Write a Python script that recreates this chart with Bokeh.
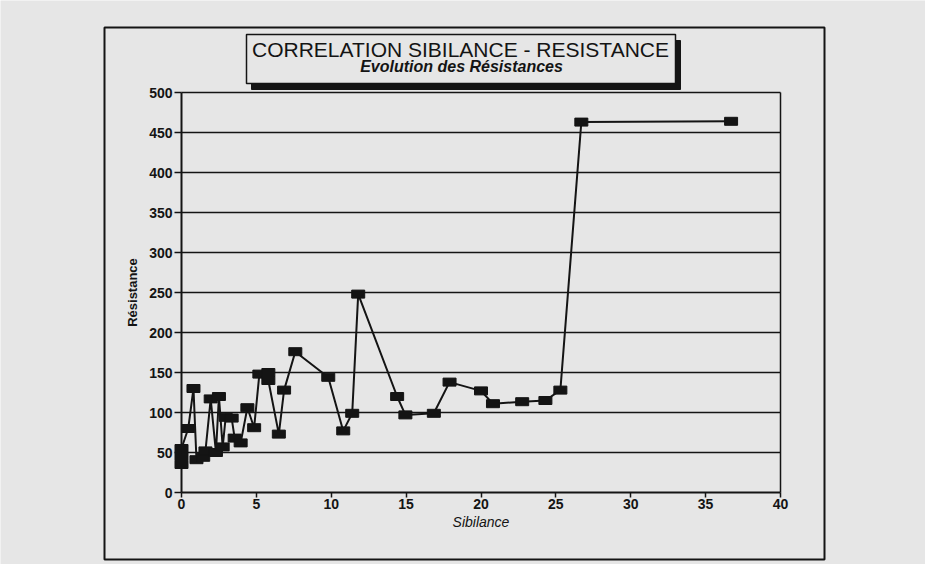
from bokeh.plotting import figure
from bokeh.models import Range1d, FixedTicker, LinearAxis
from bokeh.core.properties import value
from bokeh.embed import file_html
from bokeh.resources import INLINE

# ---- data ----
sibilance = [0.0, 0.0, 0.0, 0.45, 0.8, 1.0, 1.45, 1.6, 1.95, 2.3, 2.5, 2.75, 2.95,
             3.35, 3.55, 3.95, 4.4, 4.85, 5.2, 5.8, 5.8, 6.5, 6.85, 7.6, 9.8,
             10.8, 11.4, 11.8, 14.4, 14.95, 16.85, 17.9, 20.0, 20.8, 22.75,
             24.3, 25.3, 26.7, 36.7]
resistance = [35, 45, 55, 80, 130, 41, 44, 52, 117, 50, 120, 57, 94,
              93, 68, 62, 106, 81, 148, 150, 140, 73, 128, 176, 144,
              77, 99, 248, 120, 97, 99, 138, 127, 111, 113.5,
              115, 128, 463, 464]
x_ticks = [0, 5, 10, 15, 20, 25, 30, 35, 40]
y_ticks = [0, 50, 100, 150, 200, 250, 300, 350, 400, 450, 500]
title_text = "CORRELATION SIBILANCE - RESISTANCE"
subtitle_text = "Evolution des Résistances"
x_label = "Sibilance"
y_label = "Résistance"

BG = "#e6e6e6"
INK = "#141414"
FONT = "Liberation Sans"

# ---- layout (page pixels) ----
W, H = 925, 564
PLOT_L, PLOT_R, PLOT_T, PLOT_B = 181, 780, 92, 492
X0, X1 = x_ticks[0], x_ticks[-1]
Y0, Y1 = y_ticks[0], y_ticks[-1]
SX = (PLOT_R - PLOT_L) / (X1 - X0)
SY = (PLOT_B - PLOT_T) / (Y1 - Y0)


def dx(px):
    return X0 + (px - PLOT_L) / SX


def dy(py):
    return Y0 + (PLOT_B - py) / SY


p = figure(frame_width=W, frame_height=H, min_border=0,
           x_range=Range1d(dx(0), dx(W)), y_range=Range1d(dy(H), dy(0)),
           x_axis_location=None, y_axis_location=None,
           output_backend="svg", toolbar_location=None)
p.background_fill_color = BG
p.border_fill_color = BG
p.outline_line_color = None
p.grid.visible = False

# ---- axes fixed at the data origin ----
xaxis = LinearAxis(fixed_location=Y0, bounds=(X0, X1), ticker=FixedTicker(ticks=x_ticks))
yaxis = LinearAxis(fixed_location=X0, bounds=(Y0, Y1), ticker=FixedTicker(ticks=y_ticks))
for ax in (xaxis, yaxis):
    ax.axis_line_color = INK
    ax.axis_line_width = 2
    ax.major_tick_line_color = INK
    ax.major_tick_line_width = 1.5
    ax.major_tick_in = 0
    ax.minor_tick_line_color = None
    ax.major_label_text_font = FONT
    ax.major_label_text_font_style = "bold"
    ax.major_label_text_font_size = "14px"
    ax.major_label_text_color = INK
    ax.axis_label_text_font = FONT
    ax.axis_label_text_color = INK

xaxis.major_tick_out = 5
xaxis.major_label_standoff = 1
xaxis.axis_label = x_label
xaxis.axis_label_text_font_style = "italic"
xaxis.axis_label_text_font_size = "14px"
xaxis.axis_label_standoff = 2

yaxis.major_tick_out = 7
yaxis.major_label_standoff = 2
yaxis.axis_label = y_label
yaxis.axis_label_text_font_style = "bold"
yaxis.axis_label_text_font_size = "13px"
yaxis.axis_label_standoff = 6

p.add_layout(xaxis, "below")
p.add_layout(yaxis, "left")

# ---- outer frame and title box ----
p.quad(left=[dx(104)], right=[dx(824)], top=[dy(27)], bottom=[dy(559)],
       fill_alpha=0, line_color=INK, line_width=2)
p.quad(left=[dx(251)], right=[dx(680)], top=[dy(40)], bottom=[dy(89)],
       fill_color=INK, line_color=INK, line_width=1)
p.quad(left=[dx(246)], right=[dx(675)], top=[dy(34)], bottom=[dy(83)],
       fill_color=BG, line_color=INK, line_width=1.5)
p.text(x=[dx(460)], y=[dy(49)], text=[title_text], text_align="center",
       text_baseline="alphabetic", text_font=value(FONT),
       text_font_size="21px", text_color=INK)
p.text(x=[dx(461)], y=[dy(66)], text=[subtitle_text], text_align="center",
       text_baseline="alphabetic", text_font=value(FONT),
       text_font_style="bold italic", text_font_size="16px", text_color=INK)

# ---- horizontal grid lines at the y ticks and plot area border ----
grid_y = y_ticks[1:]
p.segment(x0=[X0] * len(grid_y), y0=grid_y, x1=[X1] * len(grid_y), y1=grid_y,
          line_color=INK, line_width=1.5)
p.segment(x0=[X1], y0=[Y0], x1=[X1], y1=[Y1], line_color=INK, line_width=1.5)

# ---- data line + rectangular markers ----
p.line(sibilance, resistance, line_color=INK, line_width=2)
p.rect(x=sibilance, y=resistance, width=13, height=8,
       width_units="screen", height_units="screen",
       fill_color=INK, line_color=INK)

open("out.html", "w").write(file_html(p, INLINE))
